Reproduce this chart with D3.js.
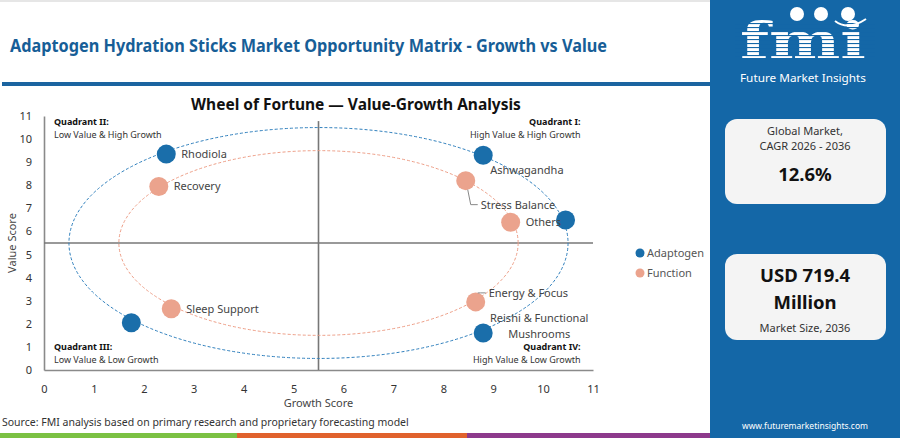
<!DOCTYPE html>
<html>
<head>
<meta charset="utf-8">
<script src="https://cdn.jsdelivr.net/npm/d3@7"></script>
<style>
  body { margin: 0; background: #fff; }
  svg { display: block; font-family: "Noto Sans", "Open Sans", sans-serif; }
</style>
</head>
<body>
<div id="chart"></div>
<script>
// data
const growthTicks = [0, 1, 2, 3, 4, 5, 6, 7, 8, 9, 10, 11];
const valueTicks = [0, 1, 2, 3, 4, 5, 6, 7, 8, 9, 10, 11];

const adaptogenNames = ["Rhodiola", "Ashwagandha", "", "Reishi & Functional Mushrooms", ""];
const adaptogenGrowth = [2.45, 8.8, 10.45, 8.8, 1.75];
const adaptogenValue = [9.35, 9.3, 6.5, 1.6, 2.05];

const functionNames = ["Recovery", "Stress Balance", "Others", "Energy & Focus", "Sleep Support"];
const functionGrowth = [2.3, 8.45, 9.35, 8.65, 2.55];
const functionValue = [7.95, 8.2, 6.4, 2.95, 2.65];

const seriesNames = ["Adaptogen", "Function"];
const seriesColors = ["#1a6eaa", "#eba38d"];
const ringRadius = [5, 4];      // in score units, both rings centred on the quadrant split
const splitPoint = 5.5;

const quadrantTitles = ["Quadrant I:", "Quadrant II:", "Quadrant III:", "Quadrant IV:"];
const quadrantTexts = ["High Value & High Growth", "Low Value & High Growth", "Low Value & Low Growth", "High Value & Low Growth"];

const cagrText = "12.6%";
const sizeLines = ["USD 719.4", "Million"];

const W = 900, H = 438;
const svg = d3.select("#chart").append("svg")
    .attr("width", W)
    .attr("height", H);

// page frame
svg.append("rect").attr("width", W).attr("height", H).attr("fill", "#fff");
svg.append("rect").attr("x", 0).attr("y", 0).attr("width", W).attr("height", 2).attr("fill", "#e6e6e6");

// header
svg.append("text")
    .attr("x", 10).attr("y", 52)
    .attr("font-size", 17).attr("font-weight", 700)
    .attr("textLength", 597).attr("lengthAdjust", "spacingAndGlyphs")
    .attr("fill", "#175e97")
    .text("Adaptogen Hydration Sticks Market Opportunity Matrix - Growth vs Value");
svg.append("rect").attr("x", 2).attr("y", 82).attr("width", 710).attr("height", 4).attr("fill", "#1b64a0");

// scales
const x = d3.scaleLinear().domain([0, 11]).range([44, 593]);
const y = d3.scaleLinear().domain([0, 11]).range([370, 116]);

// chart title
svg.append("text")
    .attr("x", 356).attr("y", 110)
    .attr("text-anchor", "middle")
    .attr("font-size", 15.5).attr("font-weight", 700)
    .attr("fill", "#111")
    .text("Wheel of Fortune \u2014 Value-Growth Analysis");

// axes
const xAxis = svg.append("g")
    .attr("transform", `translate(0, ${y(0)})`)
    .call(d3.axisBottom(x).tickValues(growthTicks).tickSize(0).tickPadding(15));
const yAxis = svg.append("g")
    .attr("transform", `translate(${x(0)}, 0)`)
    .call(d3.axisLeft(y).tickValues(valueTicks).tickSize(0).tickPadding(12));
[xAxis, yAxis].forEach(a => {
  a.select(".domain").attr("stroke", "#8a8a8a").attr("stroke-width", 1.6);
  a.selectAll("text").attr("font-size", 11).attr("fill", "#333")
      .attr("font-family", "'Noto Sans', sans-serif");
});

// axis titles
svg.append("text")
    .attr("x", x(splitPoint)).attr("y", 407)
    .attr("text-anchor", "middle").attr("font-size", 11).attr("fill", "#444")
    .text("Growth Score");
svg.append("text")
    .attr("transform", `translate(16, ${y(splitPoint)}) rotate(-90)`)
    .attr("text-anchor", "middle").attr("font-size", 11).attr("fill", "#444")
    .text("Value Score");

// quadrant split lines
svg.append("line")
    .attr("x1", x(0)).attr("x2", x(11))
    .attr("y1", y(splitPoint)).attr("y2", y(splitPoint))
    .attr("stroke", "#777").attr("stroke-width", 1.6);
svg.append("line")
    .attr("x1", x(splitPoint)).attr("x2", x(splitPoint))
    .attr("y1", y(10.78)).attr("y2", y(0))
    .attr("stroke", "#777").attr("stroke-width", 1.6);

// dashed rings
ringRadius.forEach((r, i) => {
  svg.append("ellipse")
      .attr("cx", x(splitPoint)).attr("cy", y(splitPoint))
      .attr("rx", x(splitPoint + r) - x(splitPoint))
      .attr("ry", y(splitPoint) - y(splitPoint + r))
      .attr("fill", "none")
      .attr("stroke", i === 0 ? "#2f7fbd" : "#ee9f88")
      .attr("stroke-width", 1)
      .attr("stroke-dasharray", "3,2");
});

// quadrant notes
const qNotes = [
  { t: quadrantTitles[0], s: quadrantTexts[0], gx: 10.75, gy: 10.75, anchor: "end" },
  { t: quadrantTitles[1], s: quadrantTexts[1], gx: 0.2, gy: 10.75, anchor: "start" },
  { t: quadrantTitles[2], s: quadrantTexts[2], gx: 0.2, gy: 1.0, anchor: "start" },
  { t: quadrantTitles[3], s: quadrantTexts[3], gx: 10.75, gy: 1.0, anchor: "end" }
];
qNotes.forEach(q => {
  svg.append("text")
      .attr("x", x(q.gx)).attr("y", y(q.gy) + 3.5)
      .attr("text-anchor", q.anchor)
      .attr("font-size", 9).attr("font-weight", 700).attr("fill", "#111")
      .text(q.t);
  svg.append("text")
      .attr("x", x(q.gx)).attr("y", y(q.gy) + 16.5)
      .attr("text-anchor", q.anchor)
      .attr("font-size", 9).attr("fill", "#333")
      .text(q.s);
});

// points
const points = [];
adaptogenNames.forEach((n, i) => points.push({ name: n, g: adaptogenGrowth[i], v: adaptogenValue[i], s: 0 }));
functionNames.forEach((n, i) => points.push({ name: n, g: functionGrowth[i], v: functionValue[i], s: 1 }));

svg.append("g")
  .selectAll("circle")
  .data(points)
  .join("circle")
    .attr("cx", d => x(d.g))
    .attr("cy", d => y(d.v))
    .attr("r", 9.5)
    .attr("fill", d => seriesColors[d.s]);

// label placement (offsets from the point, px)
const place = {
  "Ashwagandha": { dx: 7, dy: 15 },
  "Stress Balance": { dx: 15, dy: 24, leader: true },
  "Energy & Focus": { dx: 13, dy: -9, leader: true },
  "Reishi & Functional Mushrooms": { dx: 56, dy: -15, anchor: "middle", lines: ["Reishi & Functional", "Mushrooms"] }
};

const labels = svg.append("g");
points.filter(d => d.name).forEach(d => {
  const p = place[d.name] || { dx: 15, dy: 0 };
  const px = x(d.g), py = y(d.v);
  if (p.leader) {
    const lx = px + p.dx - 3, ly = py + p.dy;
    labels.append("path")
        .attr("d", `M${px + 2},${py + (p.dy > 0 ? 9 : -9)} L${px + 5},${ly} L${lx},${ly}`)
        .attr("fill", "none").attr("stroke", "#888").attr("stroke-width", 1);
  }
  const lines = p.lines || [d.name];
  lines.forEach((t, k) => {
    labels.append("text")
        .attr("x", px + p.dx).attr("y", py + p.dy + k * 16)
        .attr("dy", "0.35em")
        .attr("text-anchor", p.anchor || "start")
        .attr("font-size", 11).attr("fill", "#444")
        .text(t);
  });
});

// legend
const legend = svg.append("g").attr("transform", "translate(640, 253)");
const legendEntry = legend.selectAll("g")
    .data(seriesNames)
    .join("g")
    .attr("transform", (d, i) => `translate(0, ${i * 20})`);
legendEntry.append("circle").attr("r", 4.5).attr("fill", (d, i) => seriesColors[i]);
legendEntry.append("text")
    .attr("x", 7).attr("dy", "0.35em")
    .attr("font-size", 11).attr("fill", "#555")
    .text(d => d);

// source + colour strip
svg.append("text")
    .attr("x", 2).attr("y", 426)
    .attr("font-size", 10.5).attr("fill", "#333")
    .text("Source: FMI analysis based on primary research and proprietary forecasting model");
[["#7bc143", 0, 237], ["#e0622d", 237, 467], ["#8d3a8c", 467, 711]].forEach(c => {
  svg.append("rect").attr("x", c[1]).attr("y", 433).attr("width", c[2] - c[1]).attr("height", 5).attr("fill", c[0]);
});

// right panel
const panel = svg.append("g");
panel.append("rect").attr("x", 710).attr("y", 0).attr("width", 190).attr("height", H).attr("fill", "#1467a7");

// logo
panel.append("text")
    .attr("x", 803).attr("y", 58)
    .attr("text-anchor", "middle")
    .attr("font-family", "'DejaVu Serif', serif")
    .attr("font-size", 50).attr("font-weight", 700)
    .attr("textLength", 126).attr("lengthAdjust", "spacingAndGlyphs")
    .attr("fill", "#fff")
    .text("fmi");
for (let sy = 23; sy < 59; sy += 4) {
  panel.append("rect").attr("x", 735).attr("y", sy).attr("width", 140).attr("height", 1.1).attr("fill", "#1467a7");
}
[797, 821, 848].forEach(cx => {
  panel.append("circle").attr("cx", cx).attr("cy", 14).attr("r", 7).attr("fill", "#fff");
});
panel.append("path")
    .attr("d", "M835,21 Q848,31 866,19")
    .attr("fill", "none").attr("stroke", "#fff").attr("stroke-width", 2);
panel.append("text")
    .attr("x", 803).attr("y", 82)
    .attr("text-anchor", "middle")
    .attr("font-size", 11).attr("fill", "#fff")
    .attr("textLength", 126).attr("lengthAdjust", "spacingAndGlyphs")
    .text("Future Market Insights");

// stat cards
function card(y0, h) {
  panel.append("rect").attr("x", 725).attr("y", y0).attr("width", 161).attr("height", h)
      .attr("rx", 12).attr("fill", "#f4f4f4");
}
card(119, 85);
panel.append("text").attr("x", 805).attr("y", 135).attr("text-anchor", "middle")
    .attr("font-size", 11).attr("fill", "#333").text("Global Market,");
panel.append("text").attr("x", 805).attr("y", 150).attr("text-anchor", "middle")
    .attr("font-size", 11).attr("fill", "#333").text("CAGR 2026 - 2036");
panel.append("text").attr("x", 805).attr("y", 181).attr("text-anchor", "middle")
    .attr("font-size", 18.5).attr("font-weight", 700).attr("fill", "#111").text(cagrText);

card(254, 86);
sizeLines.forEach((t, i) => {
  panel.append("text").attr("x", 805).attr("y", 282 + i * 27).attr("text-anchor", "middle")
      .attr("font-size", 18.5).attr("font-weight", 700).attr("fill", "#111").text(t);
});
panel.append("text").attr("x", 805).attr("y", 332).attr("text-anchor", "middle")
    .attr("font-size", 11).attr("fill", "#333").text("Market Size, 2036");

panel.append("text").attr("x", 805).attr("y", 429).attr("text-anchor", "middle")
    .attr("font-size", 8.5).attr("fill", "#fff").text("www.futuremarketinsights.com");
</script>
</body>
</html>
